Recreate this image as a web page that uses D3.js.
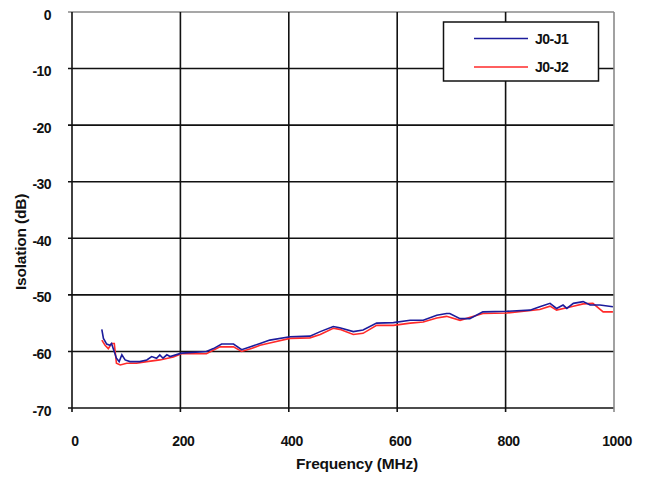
<!DOCTYPE html>
<html>
<head>
<meta charset="utf-8">
<script src="https://cdn.jsdelivr.net/npm/d3@7"></script>
<style>
  body { margin: 0; background: #fff; }
  text { font-family: "Liberation Sans", Arial, sans-serif; font-weight: bold; fill: #111; }
</style>
</head>
<body>
<svg id="chart" width="650" height="477"></svg>
<script>
"use strict";

// J0-J1 trace (MHz, dB)
var freqJ1 = [55, 58, 64, 70, 73, 76, 82, 87, 92, 98, 107, 125, 138, 147, 156, 162, 168, 175, 181, 202,
    248, 261, 276, 298, 313, 328, 347, 365, 402, 439, 458, 482, 494, 519, 537, 562, 593, 624, 648, 673,
    691, 697, 716, 734, 758, 802, 845, 863, 882, 894, 906, 913, 925, 943, 956, 974, 998];
var isoJ1 = [-56.1, -57.7, -58.7, -58.9, -58.6, -59.5, -61.2, -61.8, -60.6, -61.5, -61.8, -61.8, -61.5, -60.9, -61.2, -60.6, -61.2, -60.6, -60.9, -60.3,
    -60.0, -59.5, -58.7, -58.7, -59.7, -59.2, -58.6, -58.0, -57.4, -57.3, -56.5, -55.6, -55.8, -56.5, -56.2, -55.0, -54.9, -54.5, -54.5, -53.6,
    -53.3, -53.3, -54.2, -54.2, -53.0, -52.9, -52.7, -52.1, -51.5, -52.4, -51.8, -52.4, -51.5, -51.2, -51.8, -51.8, -52.1];

// J0-J2 trace (MHz, dB)
var freqJ2 = [55, 61, 67, 73, 78, 82, 89, 101, 119, 138, 162, 187, 202, 248, 273, 298, 313, 331, 347, 365,
    402, 439, 458, 482, 494, 519, 537, 562, 593, 624, 648, 673, 691, 716, 758, 802, 863, 882, 894, 925,
    943, 961, 980, 998];
var isoJ2 = [-58.0, -58.9, -59.5, -58.6, -58.6, -62.1, -62.4, -62.1, -62.1, -61.8, -61.5, -61.0, -60.4, -60.4, -59.2, -59.2, -60.0, -59.5, -58.9, -58.5,
    -57.7, -57.6, -57.0, -55.9, -56.1, -57.0, -56.8, -55.4, -55.4, -55.0, -54.8, -54.1, -53.8, -54.5, -53.3, -53.2, -52.6, -52.0, -52.7, -52.0,
    -51.6, -51.5, -53.0, -53.0];

var xTicks = [0, 200, 400, 600, 800, 1000];
var yTicks = [0, -10, -20, -30, -40, -50, -60, -70];
var seriesNames = ["J0-J1", "J0-J2"];
var seriesColors = ["#1c1c9c", "#ff2a2a"];

var svg = d3.select("#chart");
var x = d3.scaleLinear().domain([0, 1000]).range([72, 614]);
var y = d3.scaleLinear().domain([-70, 0]).range([408, 12]);

// grid
svg.append("g").selectAll("line").data(yTicks).enter().append("line")
    .attr("x1", 68).attr("x2", x(1000))
    .attr("y1", function (d) { return y(d); }).attr("y2", function (d) { return y(d); })
    .attr("stroke", function (d) { return d === 0 ? "#8a8a8a" : "#111"; })
    .attr("stroke-width", 1.6);

svg.append("g").selectAll("line").data(xTicks).enter().append("line")
    .attr("x1", function (d) { return x(d); }).attr("x2", function (d) { return x(d); })
    .attr("y1", y(0)).attr("y2", 412)
    .attr("stroke", function (d) { return d === 1000 ? "#8a8a8a" : "#111"; })
    .attr("stroke-width", 1.6);

// tick labels
svg.append("g").selectAll("text").data(yTicks).enter().append("text")
    .attr("x", 51).attr("y", function (d) { return y(d) + 7.5; })
    .attr("text-anchor", "end")
    .attr("font-size", 14).attr("letter-spacing", -0.6)
    .text(function (d) { return d; });

svg.append("g").selectAll("text").data(xTicks).enter().append("text")
    .attr("x", function (d) { return x(d) + 3; }).attr("y", 446)
    .attr("text-anchor", "middle")
    .attr("font-size", 14).attr("letter-spacing", -0.4)
    .text(function (d) { return d; });

svg.append("text").attr("x", 357).attr("y", 469).attr("text-anchor", "middle")
    .attr("font-size", 15.5).attr("letter-spacing", -0.2)
    .text("Frequency (MHz)");

svg.append("text").attr("transform", "translate(26,242) rotate(-90)").attr("text-anchor", "middle")
    .attr("font-size", 15.5).attr("letter-spacing", -0.2)
    .text("Isolation (dB)");

// traces
var line = d3.line()
    .x(function (d) { return x(d[0]); })
    .y(function (d) { return y(d[1]); });

svg.append("path").datum(d3.zip(freqJ2, isoJ2))
    .attr("d", line).attr("fill", "none")
    .attr("stroke", seriesColors[1]).attr("stroke-width", 1.6);
svg.append("path").datum(d3.zip(freqJ1, isoJ1))
    .attr("d", line).attr("fill", "none")
    .attr("stroke", seriesColors[0]).attr("stroke-width", 1.6);

// legend
var legend = svg.append("g");
legend.append("rect").attr("x", 443.5).attr("y", 22).attr("width", 155).attr("height", 59)
    .attr("fill", "#fff").attr("stroke", "#111").attr("stroke-width", 1.5);
seriesNames.forEach(function (name, i) {
    var ly = 38.5 + i * 28.5;
    legend.append("line").attr("x1", 474).attr("x2", 528).attr("y1", ly).attr("y2", ly)
        .attr("stroke", seriesColors[i]).attr("stroke-width", 1.6);
    legend.append("text").attr("x", 535).attr("y", ly + 5)
        .attr("font-size", 14).attr("letter-spacing", -0.5).text(name);
});
</script>
</body>
</html>
